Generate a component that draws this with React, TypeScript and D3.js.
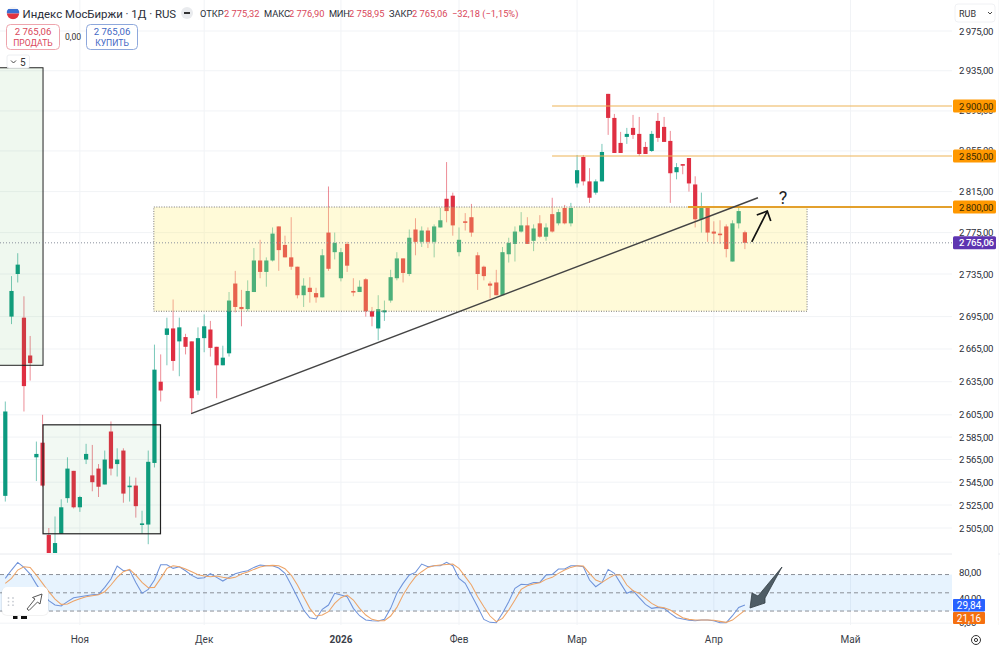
import React from "react";
import * as d3 from "d3";

const opens = [2533,2695,2735,2694,2659,2567,2580,2499,2480,2500,2531,2555,2523,2565,2551,2557,2543,2590,2561,2573,2541,2542,2508,2508,2562,2635,2678,2684,2672,2676,2672,2627,2675,2683,2667,2650,2661,2726,2704,2702,2718,2748,2737,2748,2781,2763,2751,2742,2715,2722,2717,2713,2775,2756,2731,2764,2719,2718,2730,2700,2684,2699,2710,2731,2750,2735,2778,2766,2777,2766,2780,2808,2811,2756,2786,2790,2753,2742,2726,2727,2715,2754,2764,2776,2782,2767,2784,2771,2793,2784,2799,2784,2823,2849,2825,2814,2825,2912,2888,2863,2869,2878,2872,2859,2855,2885,2879,2865,2834,2842,2848,2822,2788,2799,2776,2774,2781,2747,2784,2775.32];
const highs = [2617,2733,2755,2714,2677,2581,2605,2505,2515,2530,2567,2555,2533,2579,2578,2561,2573,2599,2575,2575,2550,2549,2520,2573,2669,2660,2694,2711,2694,2679,2672,2685,2697,2691,2667,2668,2718,2738,2720,2729,2760,2768,2751,2780,2781,2772,2790,2742,2731,2732,2722,2759,2820,2775,2760,2766,2731,2729,2731,2704,2715,2710,2739,2756,2750,2778,2789,2781,2780,2783,2799,2844,2814,2780,2794,2803,2756,2743,2728,2739,2761,2770,2781,2795,2790,2783,2792,2784,2809,2798,2802,2804,2851,2851,2838,2827,2862,2912,2892,2874,2878,2891,2889,2864,2875,2893,2889,2875,2843,2842,2848,2830,2814,2801,2786,2787,2783,2787,2801,2776.9];
const lows = [2528,2688,2727,2608,2636,2546,2541,2478,2476,2500,2527,2522,2519,2561,2537,2532,2543,2551,2550,2527,2528,2514,2500,2491,2558,2617,2650,2645,2640,2660,2606,2623,2662,2658,2620,2650,2658,2699,2686,2700,2718,2731,2723,2747,2738,2751,2739,2712,2704,2708,2708,2713,2738,2749,2728,2737,2714,2718,2695,2686,2673,2691,2708,2729,2727,2733,2753,2761,2760,2751,2780,2785,2772,2752,2777,2771,2720,2729,2712,2715,2715,2746,2747,2775,2764,2757,2770,2767,2775,2782,2783,2781,2819,2821,2804,2812,2825,2871,2853,2853,2862,2867,2850,2852,2854,2864,2864,2804,2827,2832,2815,2780,2775,2766,2764,2764,2751,2747,2779,2758.95];
const closes = [2608,2719,2744,2631,2652,2570,2542,2481,2492,2523,2557,2523,2532,2570,2545,2541,2565,2557,2565,2535,2542,2524,2509,2563,2646,2627,2684,2654,2685,2667,2620,2675,2686,2666,2650,2657,2710,2704,2702,2719,2748,2737,2748,2774,2758,2751,2742,2715,2724,2718,2713,2753,2740,2765,2756,2743,2718,2723,2700,2695,2702,2701,2732,2750,2736,2770,2766,2777,2766,2781,2787,2796,2782,2768,2785,2775,2735,2733,2724,2715,2756,2765,2776,2782,2764,2779,2771,2780,2776,2795,2784,2799,2836,2825,2809,2825,2854,2888,2853,2853,2872,2871,2852,2852,2872,2868,2864,2833,2839,2841,2823,2788,2799,2775,2774,2773,2759,2784,2796,2765.06];
const stochK = [73.7,87.4,100,91.8,80.8,63.9,49.1,37,29.9,28.2,35.4,41.9,43.6,45.2,46.9,47.4,58.9,72.6,94,86.3,87.4,67.1,49.1,55.6,71,96.2,96.2,90.2,92.9,86.3,78.6,73.7,74.8,81.4,75.4,69.3,75.4,81.4,84.1,86.3,91.8,95.6,94.5,94.5,90.7,82,62.8,42.5,21.7,9,6.9,22.8,29.9,49.1,46.3,43.6,24.4,12.3,5.2,4.1,3.6,6.3,24.4,49.1,65.5,79.2,83.6,97.3,92.9,94.5,94.5,100,94.5,73.7,65.5,46.3,27.1,6.3,1.4,0.8,16.2,35.4,57.3,63.9,63.3,67.1,67.1,79.2,80.3,89.1,89.1,94.5,94.5,92.9,71,60,67.1,88.5,82,65.5,49.1,53.4,42,31,24.4,26,24.4,16.2,9,6.9,4.7,4.1,5.2,5.2,4.1,0.8,0.8,12.3,26,29.84];
const stochD = [65.5,73.7,87.4,92.9,91.8,79.2,65.5,51.8,39.7,31,31.5,36.5,40.3,43.6,45.2,46.9,51.8,62.8,75.4,84.7,88.5,79.2,67.1,58.4,58.9,73.7,90.2,94.5,92.9,89.1,84.7,79.7,77.6,76.5,77.6,75.4,73.7,75.4,80.8,84.1,88.5,92.4,94.5,95.1,94.5,89.6,79.2,62.8,43.6,24.4,11.8,13.4,18.9,32.6,41.9,46.3,38.1,24.4,13.4,6.3,4.1,4.1,11.8,26,46.3,62.8,76.5,84.7,91.8,94.5,95.6,96.7,97.3,90.2,76.5,62.8,43.6,27.1,11.8,2.5,7.9,21.7,38.1,55.6,61.7,64.4,66.6,72.1,75.4,82,87.4,91.8,94.5,94,82,71,67.1,73.7,79.2,79.2,62.8,53.4,49.1,40.8,32.6,27.1,25.5,21.7,15.1,9,6.3,5.2,5.2,5.2,4.7,3,1.4,5.2,13.4,21.16];
const priceTicks = [2975,2935,2895,2855,2815,2775,2735,2695,2665,2635,2605,2585,2565,2545,2525,2505];
const stochTicks = [80,40,0];
const stochLevels = [80,50,20];
const levels = [2900,2850,2800];
const monthLabels = ["Ноя","Дек","2026","Фев","Мар","Апр","Май"];
const monthIndex = [12,32,54,73,92,114,136];
const lastPrice = 2765.06;

const GREEN = "#0b9a7f";
const RED = "#df2f42";
const fmt = (v: number) => {
  const s = v.toFixed(2).replace(".", ",");
  return s.length > 6 ? s[0] + "\u2009" + s.slice(1) : s;
};

export default function App() {
  const W = 1000, H = 649, paneR = 952;
  const x = d3.scaleLinear().domain([0, 119]).range([5.3, 744.9]);
  const y = d3.scaleLog().domain([2505, 2735, 2800, 2850, 2900, 2975]).range([528, 274, 207, 156, 106, 31]);
  const ys = d3.scaleLinear().domain([0, 100]).range([623.2, 562.4]);
  const line = (vals: number[]) =>
    d3.line<number>().x((_, i) => x(i)).y((d) => ys(d))(vals) as string;
  const font = "Roboto, 'Noto Sans', sans-serif";
  const arrowTail = [x(120.1), y(2766)];
  const arrowTip = [x(122.6), y(2796)];
  const axisFs = 9.6, axisLs = -0.25;
  return (
    <svg width={W} height={H} style={{ position: "absolute", left: 0, top: 0, display: "block", background: "#fff" }} fontFamily={font}>
      <defs>
        <clipPath id="p"><rect x={0} y={0} width={paneR} height={553} /></clipPath>
      </defs>
      {/* grid */}
      <g stroke="#f1f3f6" strokeWidth={1}>
        {priceTicks.map((t) => <line key={t} x1={0} x2={paneR} y1={y(t)} y2={y(t)} />)}
        {monthIndex.map((m) => <line key={m} x1={x(m)} x2={x(m)} y1={0} y2={625} />)}
        <line x1={0} x2={W} y1={554} y2={554} stroke="#e8eaee" />
        <line x1={0} x2={paneR} y1={ys(0)} y2={ys(0)} />
        <line x1={998} x2={998} y1={0} y2={625} />
      </g>
      <g clipPath="url(#p)">
        {opens.map((o, i) => {
          const c = closes[i];
          const col = c >= o ? GREEN : RED;
          const top = y(Math.max(o, c)), bot = y(Math.min(o, c));
          return (
            <g key={i}>
              <line x1={x(i)} x2={x(i)} y1={y(highs[i])} y2={y(lows[i])} stroke={col} strokeOpacity={0.55} strokeWidth={1} />
              <rect x={x(i) - 2.1} width={4.2} y={top} height={Math.max(bot - top, 1.6)} fill={col} />
            </g>
          );
        })}
        <rect x={-5} width={x(6.07) + 5} y={y(2938)} height={y(2650) - y(2938)} fill="#4caf50" fillOpacity={0.09} stroke="#222" strokeWidth={1} />
        <rect x={x(6.07)} width={x(24.97) - x(6.07)} y={y(2596)} height={y(2500) - y(2596)} fill="#4caf50" fillOpacity={0.07} stroke="#222" strokeWidth={1.2} />
        <rect x={x(23.9)} width={x(129) - x(23.9)} y={y(2800)} height={y(2700) - y(2800)} fill="#ffee70" fillOpacity={0.27} stroke="#777" strokeWidth={1} strokeDasharray="1 1.5" />
        <line x1={0} x2={paneR} y1={y(lastPrice)} y2={y(lastPrice)} stroke="#8a8f9c" strokeWidth={1} strokeDasharray="1 2" />
        <line x1={x(87.97)} x2={paneR} y1={y(2900)} y2={y(2900)} stroke="#eeb457" strokeWidth={1.2} />
        <line x1={x(87.97)} x2={paneR} y1={y(2850)} y2={y(2850)} stroke="#eeb457" strokeWidth={1.2} />
        <line x1={x(109.85)} x2={paneR} y1={y(2800)} y2={y(2800)} stroke="#e3a02c" strokeWidth={1.8} />
        <line x1={x(29.9)} y1={y(2606)} x2={x(121.1)} y2={y(2809)} stroke="#444" strokeWidth={1.4} />
        <polyline points={`${arrowTail} ${arrowTip}`} fill="none" stroke="#111" strokeWidth={1.7} />
        <polyline points={`${arrowTip[0] - 10.5},${arrowTip[1] + 4} ${arrowTip} ${arrowTip[0] + 3.5},${arrowTip[1] + 10}`} fill="none" stroke="#111" strokeWidth={1.7} />
        <text x={783} y={204} fontSize={18} textAnchor="middle" fill="#222">?</text>
      </g>
      {/* stochastic pane */}
      <rect x={0} width={paneR} y={ys(80)} height={ys(20) - ys(80)} fill="#2196f3" fillOpacity={0.11} />
      {stochLevels.map((l) => (
        <line key={l} x1={0} x2={paneR} y1={ys(l)} y2={ys(l)} stroke="#8b8f98" strokeWidth={1} strokeDasharray="4 3" />
      ))}
      <path d={line(stochK)} fill="none" stroke="#6f93da" strokeWidth={1.05} />
      <path d={line(stochD)} fill="none" stroke="#eda468" strokeWidth={1.05} />
      <polygon points="782,567 765,598 765,603 750,608 752,593 758,596" fill="#4f5d66" stroke="#333d44" strokeWidth={0.8} strokeLinejoin="round" />
      {/* floating toolbar */}
      <g>
        <rect x={13} y={616} width={4.5} height={3} fill="#111" />
        <rect x={21} y={616} width={6} height={3} fill="#111" />
        <rect x={1} y={587} width={48} height={29} rx={6} fill="#000" fillOpacity={0.05} />
        <rect x={2} y={587} width={46} height={28} rx={5} fill="#fff" />
        {[0, 1, 2].map((r) => [0, 1].map((c) => <circle key={`${r}${c}`} cx={8.5 + c * 4.5} cy={598 + r * 3.6} r={0.9} fill="#c8ccd3" />))}
        <path d="M27,609 L35,599 L32.5,597.5 L42,594 L40,604 L37.5,602 L29,610.5 Z" fill="#fff" stroke="#444" strokeWidth={0.9} strokeLinejoin="round" />
      </g>
      {/* collapsed group tag */}
      <rect x={7} y={55} width={22.5} height={13} rx={2} fill="#fff" stroke="#eceef1" />
      <path d="M11,60.5 L13.5,63 L16,60.5" fill="none" stroke="#333" strokeWidth={0.9} />
      <text x={20} y={65.5} fontSize={10} fill="#333">5</text>
      {/* price axis */}
      <rect x={paneR} y={0} width={W - paneR - 2} height={625} fill="#fff" />
      <g fontSize={axisFs} fill="#2a2e39" letterSpacing={axisLs}>
        {priceTicks.map((t) => <text key={t} x={959} y={y(t) + 3.5}>{fmt(t)}</text>)}
        {stochTicks.map((t) => <text key={t} x={959} y={ys(t) + (t === 80 ? 1.5 : 3)}>{fmt(t)}</text>)}
      </g>
      {levels.map((l) => (
        <g key={l}>
          <rect x={953} y={y(l) - 6.5} width={43} height={13} rx={1.5} fill="#ff9800" />
          <text x={959} y={y(l) + 3.5} fontSize={axisFs} letterSpacing={axisLs} fill="#3a2a00">{fmt(l)}</text>
        </g>
      ))}
      <rect x={953} y={y(lastPrice) - 6.5} width={43} height={13} rx={1.5} fill="#5e35b1" />
      <text x={959} y={y(lastPrice) + 3.5} fontSize={axisFs} letterSpacing={axisLs} fontWeight={500} fill="#fff">{fmt(lastPrice)}</text>
      <rect x={953} y={599} width={32} height={12.5} rx={1} fill="#2962ff" />
      <text x={969} y={608.8} fontSize={10} textAnchor="middle" fill="#fff">{fmt(stochK[119])}</text>
      <rect x={953} y={612} width={32} height={12} rx={1} fill="#f57010" />
      <text x={969} y={621.5} fontSize={10} textAnchor="middle" fill="#fff">{fmt(stochD[119])}</text>
      {/* RUB */}
      <rect x={955} y={4} width={40} height={18} rx={3} fill="#fff" stroke="#f0f1f4" />
      <text x={959} y={16.5} fontSize={9} fill="#333">RUB</text>
      <path d="M988,12 L990,14 L992,12" fill="none" stroke="#333" strokeWidth={0.9} />
      {/* time axis */}
      <g fontSize={10} fill="#3a3e48" textAnchor="middle">
        {monthLabels.map((m, i) => (
          <text key={m} x={x(monthIndex[i])} y={643} fontWeight={m === "2026" ? 700 : 400}>{m}</text>
        ))}
      </g>
      <circle cx={976} cy={640} r={4.5} fill="none" stroke="#333" strokeWidth={1} />
      <circle cx={976} cy={640} r={1.6} fill="none" stroke="#333" strokeWidth={1} />
      {/* header */}
      <clipPath id="flag"><circle cx={13} cy={13} r={6.2} /></clipPath>
      <g clipPath="url(#flag)">
        <rect x={6} y={6} width={14} height={5} fill="#f4f4f6" />
        <rect x={6} y={9} width={14} height={4.5} fill="#3c6fd1" />
        <rect x={6} y={13.5} width={14} height={6} fill="#e2333f" />
      </g>
      <text x={22.5} y={17.5} fontSize={11.4} fill="#2a2e39">Индекс МосБиржи · 1Д · RUS</text>
      <circle cx={187} cy={13} r={6} fill="#e9ebee" />
      <rect x={184} y={12} width={6} height={2} fill="#333" />
      <g fontSize={9.3} fill="#2a2e39">
        <text x={200} y={17}>ОТКР</text><text x={224} y={17} fill="#d9475a">2 775,32</text>
        <text x={264} y={17}>МАКС</text><text x={289} y={17} fill="#d9475a">2 776,90</text>
        <text x={329} y={17} letterSpacing={-0.3}>МИН</text><text x={349} y={17} fill="#d9475a">2 758,95</text>
        <text x={389} y={17}>ЗАКР</text><text x={412} y={17} fill="#d9475a">2 765,06</text>
        <text x={452} y={17} fill="#d9475a">−32,18 (−1,15%)</text>
      </g>
      <rect x={6.5} y={24.5} width={53} height={25} rx={4} fill="#fff" stroke="#eea5ad" />
      <text x={33} y={34.5} fontSize={9.6} textAnchor="middle" fill="#d9475a">2 765,06</text>
      <text x={33} y={45.5} fontSize={8.6} textAnchor="middle" fill="#d9475a">ПРОДАТЬ</text>
      <text x={73} y={40} fontSize={8.6} textAnchor="middle" fill="#333">0,00</text>
      <rect x={86.5} y={24.5} width={51} height={25} rx={4} fill="#fff" stroke="#8ea8dc" />
      <text x={112} y={34.5} fontSize={9.6} textAnchor="middle" fill="#3f67c4">2 765,06</text>
      <text x={112} y={45.5} fontSize={8.6} textAnchor="middle" fill="#3f67c4">КУПИТЬ</text>
    </svg>
  );
}
